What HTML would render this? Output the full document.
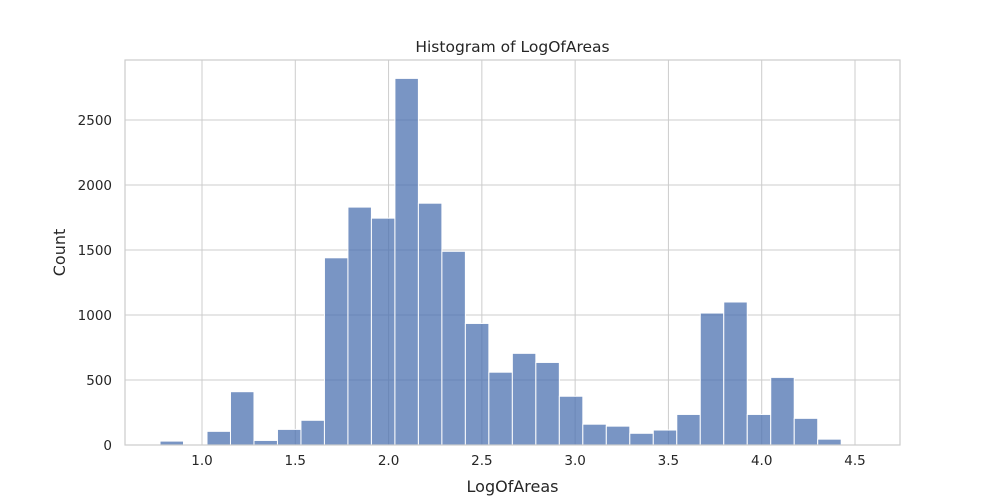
<!DOCTYPE html>
<html><head><meta charset="utf-8"><style>
body{margin:0;background:#fff;}
svg{display:block;font-family:"DejaVu Sans","Liberation Sans",sans-serif;}
</style></head><body>
<svg id="chart" width="1000" height="500"></svg>
<script>
const binStart = 0.775;
const binWidth = 0.1259;
const counts = [30,0,105,410,35,120,190,1440,1830,1745,2820,1860,1490,935,560,705,635,375,160,145,90,115,235,1015,1100,235,520,205,45];
const xTicks = [1.0,1.5,2.0,2.5,3.0,3.5,4.0,4.5];
const xTickLabels = ["1.0","1.5","2.0","2.5","3.0","3.5","4.0","4.5"];
const yTicks = [0,500,1000,1500,2000,2500];
const yTickLabels = ["0","500","1000","1500","2000","2500"];

const L=125,R=900,T=60,B=445;
const xs = v => 202 + (v-1.0)*186.57;
const ys = v => B - v*0.13;
const NS="http://www.w3.org/2000/svg";
const svg=document.getElementById('chart');
function mk(tag,attrs,parent){const e=document.createElementNS(NS,tag);for(const k in attrs)e.setAttribute(k,attrs[k]);(parent||svg).appendChild(e);return e;}

const grid=mk('g',{});


xTicks.forEach((t,i)=>{
  const l=mk('line',{x1:xs(t),x2:xs(t),y1:T,y2:B,stroke:'#cccccc','stroke-width':1},grid);
  
  
  const tx=mk('text',{x:xs(t),y:B+20,'text-anchor':'middle','font-size':13.5,fill:'#262626'});
  tx.textContent=xTickLabels[i];
  
  
});
yTicks.forEach((t,i)=>{
  const l=mk('line',{x1:L,x2:R,y1:ys(t),y2:ys(t),stroke:'#cccccc','stroke-width':1},grid);
  
  
  const tx=mk('text',{x:L-13,y:ys(t)+5,'text-anchor':'end','font-size':13.5,fill:'#262626'});
  tx.textContent=yTickLabels[i];
  
  
});
const bars=mk('g',{});


counts.forEach((c,i)=>{
  const x0=xs(binStart+i*binWidth), x1=xs(binStart+(i+1)*binWidth);
  const r=mk('rect',{x:x0,y:ys(c),width:x1-x0,height:B-ys(c),fill:'rgba(76,114,176,0.75)',stroke:'#ffffff','stroke-width':1},bars);
  
  
});
const fr=mk('rect',{x:L,y:T,width:R-L,height:B-T,fill:'none',stroke:'#cccccc','stroke-width':1.2});


const title=mk('text',{x:(L+R)/2,y:52,'text-anchor':'middle','font-size':15.5,fill:'#262626'});
title.textContent='Histogram of LogOfAreas';


const xl=mk('text',{x:(L+R)/2,y:492,'text-anchor':'middle','font-size':16,fill:'#262626'});
xl.textContent='LogOfAreas';


const yl=mk('text',{x:65,y:(T+B)/2,'text-anchor':'middle','font-size':16,fill:'#262626',transform:`rotate(-90 65 ${(T+B)/2})`});
yl.textContent='Count';


</script>
</body></html>
